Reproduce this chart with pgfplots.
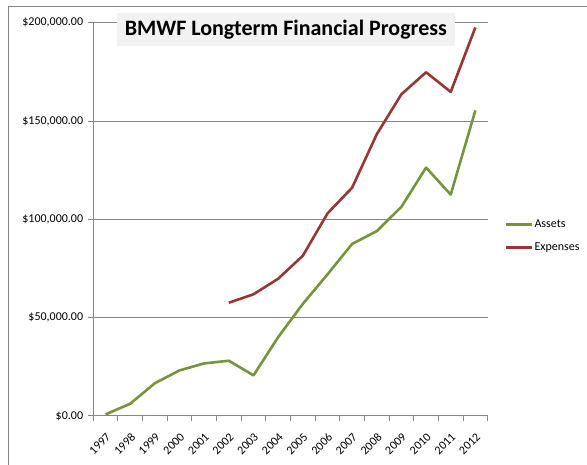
\documentclass[border=0pt]{standalone}
\usepackage{fontspec}
\setmainfont{Carlito}
\usepackage{pgfplots}
\pgfplotsset{compat=1.18}
\definecolor{assetc}{RGB}{119,147,60}
\definecolor{expc}{RGB}{149,55,53}
\definecolor{gridc}{RGB}{134,134,134}
\definecolor{titlec}{RGB}{242,242,242}
\begin{document}
\begin{tikzpicture}[x=1pt,y=1pt]
\useasboundingbox (0,0) rectangle (587,465);
\draw[gridc, line width=1pt] (8,0) -- (8,458) -- (587,458);
\begin{axis}[
  at={(93.3pt,49pt)}, anchor=south west, scale only axis,
  width=394.4pt, height=393.3pt,
  xmin=-0.5, xmax=15.5, ymin=0, ymax=200000,
  xtick={-0.5,0.5,...,15.5},
  x tick label as interval,
  xticklabels={1997,1998,1999,2000,2001,2002,2003,2004,2005,2006,2007,2008,2009,2010,2011,2012},
  ytick={0,50000,100000,150000,200000},
  yticklabels={{\$0.00},{\$50,000.00},{\$100,000.00},{\$150,000.00},{\$200,000.00}},
  scaled y ticks=false,
  ymajorgrids, grid style={gridc, line width=1pt},
  axis x line*=bottom, axis y line*=left,
  axis line style={gridc, line width=1pt, -},
  tick align=outside, major tick length=5pt,
  tick style={gridc, line width=1pt},
  tick label style={font=\fontsize{12}{12}\selectfont, text=black},
  xticklabel style={rotate=45, anchor=north east, inner sep=8pt},
  yticklabel style={inner sep=2pt, xshift=-3pt},
  legend style={at={(1,0.458)}, anchor=west, xshift=17pt, draw=none, fill=none,
    inner sep=0pt, nodes={inner sep=1pt}, font=\fontsize{12}{12}\selectfont,
    row sep=12pt},
  legend cell align=left,
  legend image code/.code={\draw[#1, line width=2.6pt] (0pt,0pt) -- (26pt,0pt);},
]
\addplot[assetc, line width=2.6pt, line join=round] coordinates {
(0,800) (1,6250) (2,16700) (3,23200) (4,26750) (5,28100) (6,20650) (7,40100)
(8,57000) (9,72000) (10,87500) (11,94000) (12,106400) (13,126300) (14,112600) (15,155400)};
\addlegendentry{Assets}
\addplot[expc, line width=2.6pt, line join=round] coordinates {
(5,57600) (6,61900) (7,69800) (8,81500) (9,103000) (10,116100) (11,143300)
(12,163600) (13,174800) (14,164800) (15,197600)};
\addlegendentry{Expenses}
\end{axis}
\node[fill=titlec, minimum width=338pt, minimum height=33pt, inner sep=0pt,
  font=\fontsize{22}{22}\selectfont\bfseries] at (285.8,435.7) {BMWF Longterm Financial Progress};
\end{tikzpicture}
\end{document}
